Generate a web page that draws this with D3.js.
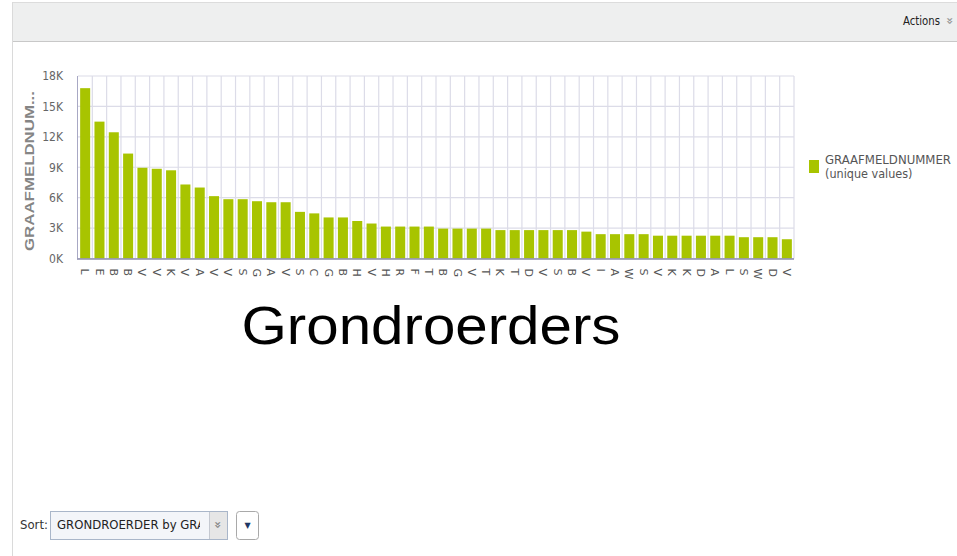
<!DOCTYPE html>
<html>
<head>
<meta charset="utf-8">
<script src="https://cdn.jsdelivr.net/npm/d3@7"></script>
<style>
  body { margin: 0; background: #fff; }
  svg { display: block; }
</style>
</head>
<body>
<div id="chart"></div>
<script>
// first letter of each grondroerder, as shown under the bars
var categories = ["L","E","B","B","V","V","K","V","A","V",
                  "V","S","G","A","V","S","C","G","B","H",
                  "V","H","R","F","T","B","G","V","T","K",
                  "T","D","V","S","B","V","I","A","W","S",
                  "V","K","K","D","A","L","S","W","D","V"];

// GRAAFMELDNUMMER (unique values) per grondroerder
var values = [16800,13500,12450,10350,8950,8850,8700,7300,7000,6150,
              5850,5850,5650,5550,5550,4600,4450,4050,4050,3700,
              3450,3150,3150,3150,3150,2950,2950,2950,2950,2800,
              2800,2800,2800,2800,2800,2650,2400,2400,2400,2400,
              2250,2250,2250,2250,2250,2250,2100,2100,2100,1900];

var yTicks = [0, 3000, 6000, 9000, 12000, 15000, 18000];

var seriesName = ["GRAAFMELDNUMMER", "(unique values)"];

var barColor = "#a8c400";
var gridColor = "#dcdce8";

var svg = d3.select("#chart")
  .append("svg")
  .attr("width", 957).attr("height", 556);

// top toolbar
svg.append("rect")
  .attr("x", 12).attr("y", 2)
  .attr("width", 945).attr("height", 39)
  .attr("fill", "#eeefef");
svg.append("line")
  .attr("x1", 12).attr("x2", 957).attr("y1", 2.5).attr("y2", 2.5)
  .attr("stroke", "#dcdcdc");
svg.append("line")
  .attr("x1", 12).attr("x2", 957).attr("y1", 41.5).attr("y2", 41.5)
  .attr("stroke", "#c8c8c8");
svg.append("line")
  .attr("x1", 12.5).attr("x2", 12.5).attr("y1", 2).attr("y2", 556)
  .attr("stroke", "#dadada");

svg.append("text")
  .attr("x", 940).attr("y", 25)
  .attr("text-anchor", "end")
  .attr("font-family", "'Liberation Sans Narrow', 'DejaVu Sans Condensed', sans-serif")
  .attr("font-size", 12.5)
  .attr("fill", "#222")
  .attr("textLength", 37)
  .attr("lengthAdjust", "spacingAndGlyphs")
  .text("Actions");
svg.append("text")
  .attr("x", 950).attr("y", 21)
  .attr("text-anchor", "middle")
  .attr("dominant-baseline", "central")
  .attr("transform", "rotate(90,950,21)")
  .attr("font-family", "'DejaVu Sans', sans-serif")
  .attr("font-size", 12)
  .attr("font-weight", "bold")
  .attr("fill", "#999")
  .text("»");

// plot area
var plotLeft = 78, plotRight = 794, plotTop = 76, plotBottom = 258.5;

var x = d3.scaleBand()
  .domain(d3.range(values.length))
  .range([plotLeft, plotRight])
  .paddingInner(0.3)
  .paddingOuter(0.15);

var y = d3.scaleLinear()
  .domain([0, 18000])
  .range([plotBottom, plotTop]);

var g = svg.append("g");

// horizontal grid
g.selectAll(".hgrid")
  .data(yTicks)
  .enter().append("line")
  .attr("class", "hgrid")
  .attr("x1", plotLeft).attr("x2", plotRight)
  .attr("y1", function(d) { return y(d); })
  .attr("y2", function(d) { return y(d); })
  .attr("stroke", gridColor)
  .attr("stroke-width", 1.2);

// vertical grid on band edges
g.selectAll(".vgrid")
  .data(d3.range(1, values.length + 1))
  .enter().append("line")
  .attr("class", "vgrid")
  .attr("x1", function(i) { return plotLeft + i * x.step(); })
  .attr("x2", function(i) { return plotLeft + i * x.step(); })
  .attr("y1", plotTop).attr("y2", plotBottom)
  .attr("stroke", gridColor)
  .attr("stroke-width", 1.2);

// bars
g.selectAll(".bar")
  .data(values)
  .enter().append("rect")
  .attr("class", "bar")
  .attr("x", function(d, i) { return x(i); })
  .attr("y", function(d) { return y(d); })
  .attr("width", x.bandwidth())
  .attr("height", function(d) { return plotBottom - y(d); })
  .attr("fill", barColor);

// axis lines
g.append("line")
  .attr("x1", plotLeft - 0.5).attr("x2", plotLeft - 0.5)
  .attr("y1", plotTop).attr("y2", plotBottom)
  .attr("stroke", "#a8a8c4");
g.append("line")
  .attr("x1", plotLeft - 1).attr("x2", plotRight)
  .attr("y1", plotBottom + 0.5).attr("y2", plotBottom + 0.5)
  .attr("stroke", "#8c8cac")
  .attr("stroke-width", 1.5);

// y axis
var yAxis = d3.axisLeft(y)
  .tickValues(yTicks)
  .tickSize(0)
  .tickPadding(15)
  .tickFormat(function(d) { return (d / 1000) + "K"; });

var ya = svg.append("g")
  .attr("transform", "translate(" + plotLeft + ",0)")
  .call(yAxis);
ya.select(".domain").remove();
ya.selectAll("text")
  .attr("font-family", "'DejaVu Sans Condensed', 'Liberation Sans Narrow', sans-serif")
  .attr("font-size", 12)
  .attr("fill", "#666");

svg.append("text")
  .attr("transform", "translate(34,171) rotate(-90)")
  .attr("text-anchor", "middle")
  .attr("font-family", "'Liberation Sans', Arial, sans-serif")
  .attr("font-size", 13)
  .attr("font-weight", "bold")
  .attr("fill", "#858585")
  .attr("textLength", 160)
  .attr("lengthAdjust", "spacingAndGlyphs")
  .text("GRAAFMELDNUM...");

// x labels, rotated letters
var xAxis = d3.axisBottom(x)
  .tickSize(0)
  .tickFormat(function(i) { return categories[i]; });

var xa = svg.append("g")
  .attr("transform", "translate(0," + plotBottom + ")")
  .call(xAxis);
xa.select(".domain").remove();
xa.selectAll("text")
  .attr("transform", "rotate(90)")
  .attr("x", 10).attr("y", 0)
  .attr("dy", "0.36em")
  .attr("text-anchor", "start")
  .attr("font-family", "'DejaVu Sans', sans-serif")
  .attr("font-size", 11)
  .attr("fill", "#555");

// legend
svg.append("rect")
  .attr("x", 809).attr("y", 160)
  .attr("width", 10).attr("height", 13)
  .attr("fill", barColor);
svg.selectAll(".legtext")
  .data(seriesName)
  .enter().append("text")
  .attr("class", "legtext")
  .attr("x", 825)
  .attr("y", function(d, i) { return 164 + i * 14; })
  .attr("font-family", "'DejaVu Sans Condensed', 'Liberation Sans Narrow', sans-serif")
  .attr("font-size", 12.5)
  .attr("fill", "#555")
  .text(function(d) { return d; });
svg.select(".legtext").attr("textLength", 126).attr("lengthAdjust", "spacingAndGlyphs");

// big title
svg.append("text")
  .attr("x", 431).attr("y", 344)
  .attr("text-anchor", "middle")
  .attr("font-family", "'Liberation Sans', Arial, sans-serif")
  .attr("font-size", 53)
  .attr("fill", "#000")
  .attr("textLength", 379)
  .attr("lengthAdjust", "spacingAndGlyphs")
  .text("Grondroerders");

// sort control at the bottom
svg.append("text")
  .attr("x", 20).attr("y", 529)
  .attr("font-family", "'Liberation Sans Narrow', 'DejaVu Sans Condensed', sans-serif")
  .attr("font-size", 13)
  .attr("fill", "#333")
  .text("Sort:");

svg.append("rect")
  .attr("x", 50.5).attr("y", 511.5)
  .attr("width", 177).attr("height", 28)
  .attr("fill", "#f3f5f9")
  .attr("stroke", "#a9b6c9");
svg.append("rect")
  .attr("x", 209.5).attr("y", 512)
  .attr("width", 17.5).attr("height", 27)
  .attr("fill", "#e6e6e6");
svg.append("line")
  .attr("x1", 209.5).attr("x2", 209.5).attr("y1", 512).attr("y2", 539)
  .attr("stroke", "#c4c8d0");

svg.append("clipPath")
  .attr("id", "selclip")
  .append("rect")
  .attr("x", 52).attr("y", 512)
  .attr("width", 148).attr("height", 27);
svg.append("text")
  .attr("clip-path", "url(#selclip)")
  .attr("x", 57).attr("y", 529)
  .attr("font-family", "'Liberation Sans Narrow', 'DejaVu Sans Condensed', sans-serif")
  .attr("font-size", 13)
  .attr("fill", "#222")
  .text("GRONDROERDER by GRAAFMELDNUMMER");
svg.append("text")
  .attr("x", 218).attr("y", 525)
  .attr("text-anchor", "middle")
  .attr("dominant-baseline", "central")
  .attr("transform", "rotate(90,218,525)")
  .attr("font-family", "'DejaVu Sans', sans-serif")
  .attr("font-size", 12)
  .attr("font-weight", "bold")
  .attr("fill", "#888")
  .text("»");

svg.append("rect")
  .attr("x", 236.5).attr("y", 511.5)
  .attr("width", 22).attr("height", 28)
  .attr("rx", 3)
  .attr("fill", "#fff")
  .attr("stroke", "#a9a9a9");
svg.append("text")
  .attr("x", 247.5).attr("y", 525)
  .attr("text-anchor", "middle")
  .attr("dominant-baseline", "central")
  .attr("font-family", "'DejaVu Sans', sans-serif")
  .attr("font-size", 8)
  .attr("fill", "#1f3864")
  .text("▼");
</script>
</body>
</html>
